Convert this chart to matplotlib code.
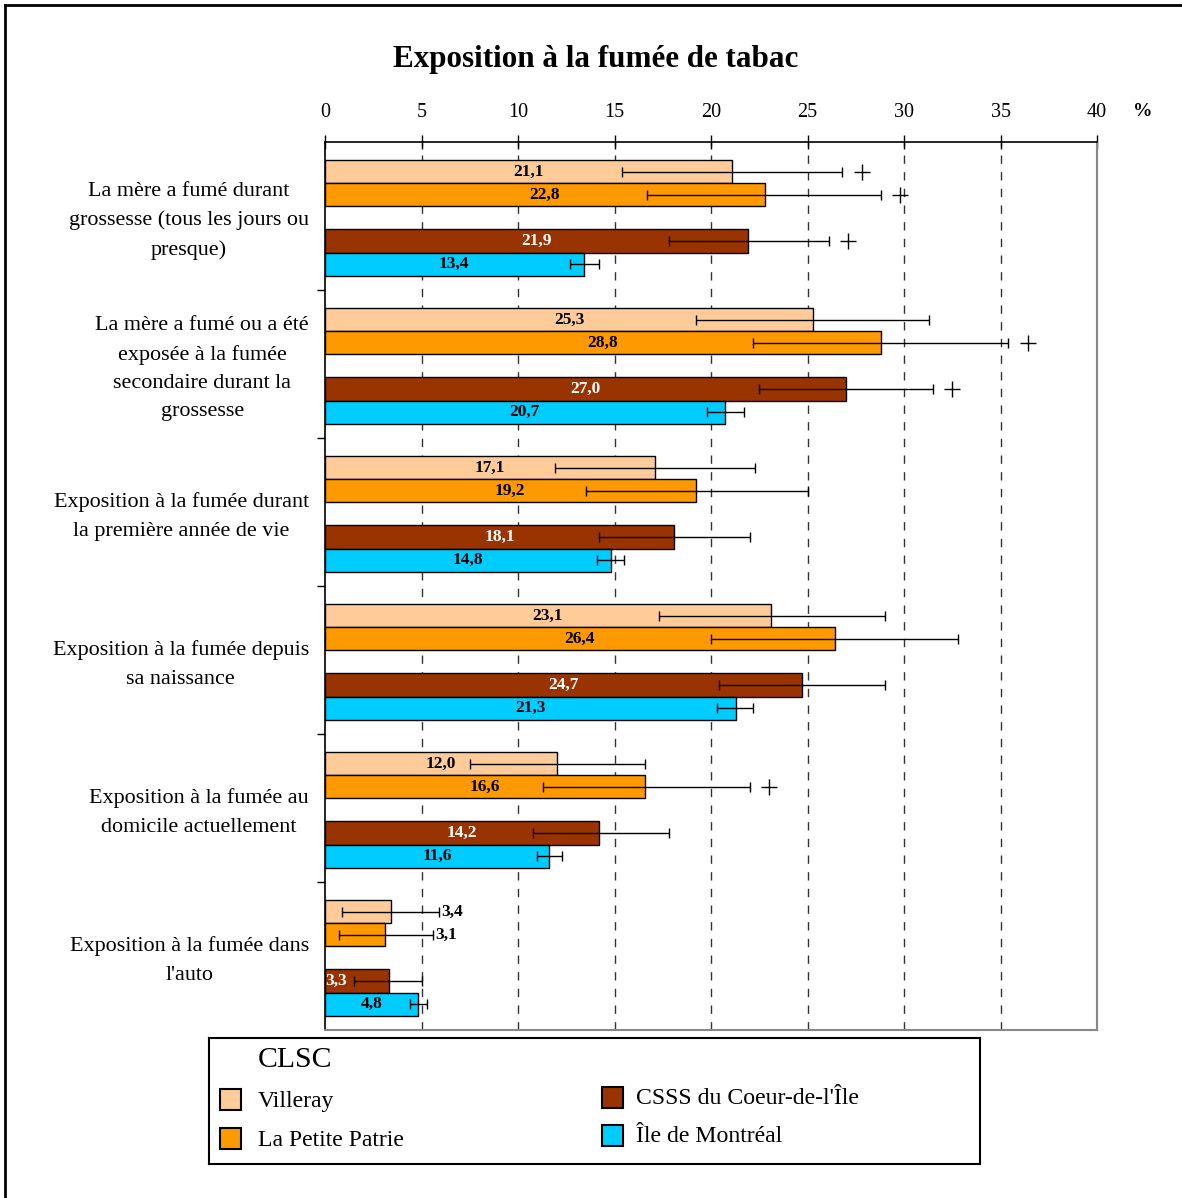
import matplotlib
matplotlib.use("Agg")
import matplotlib.pyplot as plt
import numpy as np
from matplotlib.patches import Rectangle
from matplotlib.lines import Line2D
import matplotlib.transforms as mtransforms

plt.rcParams['font.family'] = ['Liberation Serif', 'DejaVu Serif']

title = "Exposition à la fumée de tabac"
categories = [
    "La mère a fumé durant\ngrossesse (tous les jours ou\npresque)",
    "La mère a fumé ou a été\nexposée à la fumée\nsecondaire durant la\ngrossesse",
    "Exposition à la fumée durant\nla première année de vie",
    "Exposition à la fumée depuis\nsa naissance",
    "Exposition à la fumée au\ndomicile actuellement",
    "Exposition à la fumée dans\nl'auto",
]
series = ["Villeray", "La Petite Patrie", "CSSS du Coeur-de-l'Île", "Île de Montréal"]
colors = ["#FFCC99", "#FF9900", "#993300", "#00CCFF"]
label_colors = ["black", "black", "white", "black"]

villeray = [21.1, 25.3, 17.1, 23.1, 12.0, 3.4]
petite_patrie = [22.8, 28.8, 19.2, 26.4, 16.6, 3.1]
csss = [21.9, 27.0, 18.1, 24.7, 14.2, 3.3]
montreal = [13.4, 20.7, 14.8, 21.3, 11.6, 4.8]

villeray_lo = [15.4, 19.2, 11.9, 17.3, 7.5, 0.9]
villeray_hi = [26.8, 31.3, 22.3, 29.0, 16.6, 5.9]
petite_patrie_lo = [16.7, 22.2, 13.5, 20.0, 11.3, 0.7]
petite_patrie_hi = [28.8, 35.4, 25.0, 32.8, 22.0, 5.6]
csss_lo = [17.8, 22.5, 14.2, 20.4, 10.8, 1.5]
csss_hi = [26.1, 31.5, 22.0, 29.0, 17.8, 5.0]
montreal_lo = [12.7, 19.8, 14.1, 20.3, 11.0, 4.4]
montreal_hi = [14.2, 21.7, 15.5, 22.2, 12.3, 5.3]

# significance "+" markers
villeray_sig = [True, False, False, False, False, False]
petite_patrie_sig = [True, True, False, False, True, False]
csss_sig = [True, True, False, False, False, False]
montreal_sig = [False, False, False, False, False, False]

xticks = [0, 5, 10, 15, 20, 25, 30, 35, 40]

values = [villeray, petite_patrie, csss, montreal]
lows = [villeray_lo, petite_patrie_lo, csss_lo, montreal_lo]
highs = [villeray_hi, petite_patrie_hi, csss_hi, montreal_hi]
sigs = [villeray_sig, petite_patrie_sig, csss_sig, montreal_sig]

W, H = 1182, 1198
fig = plt.figure(figsize=(W / 100, H / 100), dpi=100)

def fx(px):
    return px / W

def fy(py):
    return 1 - py / H

# outer border (left & top)
fig.add_artist(Line2D([fx(5), fx(5)], [fy(5), 0], color='black', lw=2))
fig.add_artist(Line2D([fx(5), 1], [fy(5), fy(5)], color='black', lw=2))

ax = fig.add_axes([fx(325), fy(1030), fx(1097) - fx(325), fy(142) - fy(1030)])

GROUP = 6.4
slots = [0, 1, 3, 4]
OFF = 0.78
n_groups = len(categories)
LBL = 12.5

for s in range(4):
    ys = np.array([g * GROUP + OFF + slots[s] + 0.5 for g in range(n_groups)])
    vals = np.array(values[s])
    ax.barh(ys, vals, height=1.0, color=colors[s], edgecolor='black', linewidth=1.0, zorder=3)
    lo = np.array(lows[s])
    hi = np.array(highs[s])
    ax.errorbar(vals, ys, xerr=[vals - lo, hi - vals], fmt='none', ecolor='black',
                elinewidth=1.0, capsize=3.6, capthick=1.0, zorder=5)
    for g in range(n_groups):
        v = vals[g]
        lab = f"{v:.1f}".replace('.', ',')
        if g == n_groups - 1 and s in (0, 1):
            ax.text(hi[g] + 0.1, ys[g], lab, ha='left', va='center', fontsize=LBL,
                    fontweight='bold', color='black', zorder=6)
        elif g == n_groups - 1 and s == 2:
            ax.text(0.6, ys[g], lab, ha='center', va='center', fontsize=LBL,
                    fontweight='bold', color=label_colors[s], zorder=6)
        else:
            ax.text(v / 2, ys[g], lab, ha='center', va='center', fontsize=LBL,
                    fontweight='bold', color=label_colors[s], zorder=6)
        if sigs[s][g]:
            ax.plot(hi[g] + 1.0, ys[g], marker='+', markersize=11, mew=1.0,
                    color='black', zorder=6, clip_on=False)

ax.set_xlim(0, 40)
ax.set_ylim(n_groups * GROUP, 0)
ax.xaxis.tick_top()
ax.set_xticks(xticks)
ax.set_xticklabels([str(t) for t in xticks], fontsize=14.5)
ax.tick_params(axis='x', direction='inout', length=10, width=1, pad=9.5, colors='black')
ax.set_yticks([g * GROUP for g in range(1, n_groups)])
ax.set_yticklabels([])
ax.tick_params(axis='y', direction='out', length=6, width=1)

for t in xticks[1:-1]:
    ax.axvline(t, color='#333333', lw=1.0, ls=(0, (6, 6)), zorder=1)

ax.spines['top'].set_color('black')
ax.spines['top'].set_linewidth(1.2)
ax.spines['left'].set_color('black')
ax.spines['left'].set_linewidth(1.2)
ax.spines['right'].set_color('#888888')
ax.spines['right'].set_linewidth(1.5)
ax.spines['bottom'].set_color('#888888')
ax.spines['bottom'].set_linewidth(1.5)

trans = mtransforms.blended_transform_factory(ax.transAxes, ax.transData)
for g, cat in enumerate(categories):
    ax.text(-16 / 772, g * GROUP + GROUP / 2 + 0.2, cat, transform=trans, ha='right', va='center',
            multialignment='center', fontsize=15.9, linespacing=1.66)

fig.text(fx(596), fy(60), title, ha='center', va='center', fontsize=22.4, fontweight='bold')
fig.text(fx(1143), fy(111), "%", ha='center', va='center', fontsize=14, fontweight='bold')

# legend box
lx0, ly0, lx1, ly1 = 209, 1038, 980, 1164
lax = fig.add_axes([fx(lx0), fy(ly1), fx(lx1) - fx(lx0), fy(ly0) - fy(ly1)])
lax.set_xlim(lx0, lx1)
lax.set_ylim(ly1, ly0)
lax.set_xticks([])
lax.set_yticks([])
for sp in lax.spines.values():
    sp.set_linewidth(1.5)
    sp.set_color('black')
lax.text(258, 1060, "CLSC", ha='left', va='center', fontsize=21.4)
legend_pos = [(220, 258, 1099), (220, 258, 1138), (602, 636, 1097), (602, 636, 1135)]
for s in range(4):
    px, tx, cy = legend_pos[s]
    lax.add_patch(Rectangle((px, cy - 10.5), 21, 21, facecolor=colors[s], edgecolor='black', lw=1.5))
    lax.text(tx, cy + 2, series[s], ha='left', va='center', fontsize=17.1)

fig.savefig("out.png", dpi=100)
